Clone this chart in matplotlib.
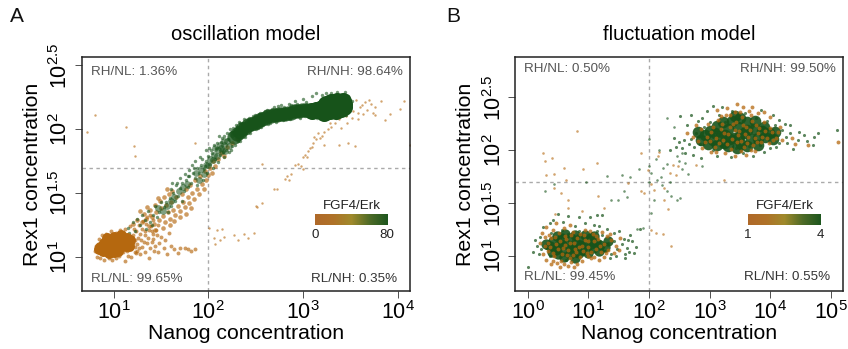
import numpy as np
import matplotlib
matplotlib.use("Agg")
import matplotlib.pyplot as plt
from matplotlib.colors import LinearSegmentedColormap

plt.rcParams['font.family'] = ['Liberation Sans', 'DejaVu Sans']
plt.rcParams['mathtext.default'] = 'regular'

ORANGE = '#B5680F'
GREEN = '#17531A'

# All coordinates are log10(Nanog), log10(Rex1)
a_core_orange = [(0.86,1.08),(0.89,1.05),(0.90,1.11),(0.93,1.07),(0.95,1.03),(0.96,1.13),(0.98,1.08),(1.00,1.04),
 (1.01,1.13),(1.03,1.09),(1.05,1.05),(1.06,1.14),(1.09,1.09),(1.11,1.13),(1.14,1.15),(1.17,1.13),(1.13,1.09),(0.84,1.06),
 (0.93,1.15),(1.00,1.16),(1.08,1.17),(1.16,1.09)]
a_scat_orange = [(0.82,1.00),(0.81,1.09),(0.84,1.14),(0.80,1.05),(0.86,0.99),(0.90,0.98),(0.95,0.99),(0.98,0.98),(1.02,0.99),(1.06,1.01),
 (0.88,1.17),(0.92,1.18),(0.97,1.20),(1.02,1.19),(1.07,1.21),(1.10,1.04),(1.14,1.05),(1.18,1.06),(1.22,1.08),(1.25,1.10),
 (1.12,1.22),(1.17,1.24),(1.21,1.22),(1.24,1.20),(1.27,1.25),(1.30,1.22),(1.33,1.17),(1.29,1.13),(1.34,1.26),(1.37,1.21),
 (1.26,1.15),(1.20,1.17),(1.23,1.13),(1.28,1.18),(1.31,1.28),(1.35,1.31),(1.39,1.24),(1.42,1.29),(1.38,1.33),(1.41,1.18),
 (1.35,1.11),(1.40,1.12),(1.44,1.09),(1.48,1.11),(1.43,1.05),(1.50,1.16),(1.54,1.13),(1.47,1.04),(1.53,1.07),(1.56,1.02),
 (1.60,1.09),(1.64,1.06),(1.68,1.03),(1.70,1.07),(1.75,1.07),(1.78,1.06),(1.82,1.05),(1.86,1.06),(1.28,1.02),(1.33,1.04),
 (1.37,0.99),(1.18,1.00),(1.24,1.03),(1.12,0.97),(1.46,1.17),(1.58,1.19),(1.30,1.08),(1.36,1.15),(1.20,1.11),(1.25,1.05),
 (1.15,1.01),(1.32,1.12),(1.38,1.07),(1.42,1.14),(1.27,1.07),(1.22,1.04),(1.45,1.21),(1.33,1.20),(1.40,1.20),(1.47,1.25)]
a_band_orange = [(1.30,1.27),(1.34,1.30),(1.37,1.24),(1.40,1.31),(1.43,1.26),(1.45,1.35),(1.48,1.29),(1.50,1.38),(1.52,1.32),(1.54,1.27),
 (1.55,1.41),(1.57,1.35),(1.59,1.30),(1.61,1.43),(1.63,1.37),(1.65,1.33),(1.66,1.47),(1.68,1.40),(1.70,1.36),(1.72,1.49),
 (1.73,1.43),(1.75,1.39),(1.76,1.53),(1.78,1.47),(1.80,1.42),(1.81,1.56),(1.83,1.50),(1.85,1.45),(1.86,1.60),(1.88,1.53),
 (1.90,1.49),(1.91,1.63),(1.93,1.57),(1.95,1.53),(1.96,1.67),(1.98,1.60),(2.00,1.64),(2.02,1.70),(2.04,1.66),(2.05,1.75),
 (2.07,1.71),(2.10,1.77),(2.13,1.81),(2.16,1.79),(2.20,1.86),(2.25,1.89),(2.30,1.93),(2.36,1.96),(2.42,1.99),(2.50,2.03),
 (1.32,1.34),(1.38,1.37),(1.44,1.41),(1.49,1.44),(1.53,1.47),(1.58,1.49),(1.62,1.52),(1.44,1.21),(1.52,1.23),(1.59,1.25),
 (1.64,1.28),(1.70,1.31),(1.76,1.34),(1.82,1.38),(1.25,1.29),(1.20,1.26),(1.28,1.36),(1.35,1.39),(1.47,1.46),(1.56,1.53)]
a_outlier_orange = [(0.72,1.98),(0.80,2.11),(1.13,2.02),(1.21,1.87),(1.22,1.79),(1.86,1.89),(2.01,1.23),(2.06,1.15),(2.09,1.21),(2.07,1.10),
 (2.12,1.13),(2.14,1.22),(2.17,1.16),(2.27,1.17),(2.31,1.13),(2.38,1.18),(2.42,1.15),(2.48,1.19),(2.50,1.40),(2.51,1.39),
 (2.57,1.42),(2.69,1.53),(2.73,1.53),(2.81,1.61),(2.83,1.63),(2.85,1.60),(2.87,1.65),(2.91,1.72),(2.95,1.73),(2.98,1.71),
 (3.00,1.69),(2.57,1.73),(3.00,1.78),(3.02,1.80),(3.04,1.78),(3.05,1.83),(3.07,1.85),(3.09,1.86),(3.11,1.89),(3.12,1.94),
 (3.14,1.92),(3.18,1.93),(3.22,1.98),(3.26,2.00),(3.30,2.02),(3.34,2.05),(3.22,1.88),(3.38,1.88),(3.48,1.89),(3.55,1.87),
 (3.16,1.97),(3.20,1.95),(3.28,2.05),(3.40,2.01),(3.46,2.05),(3.52,2.09),(3.58,2.13),(3.62,2.19),(3.68,2.15),(3.72,2.20),
 (3.76,2.11),(3.76,2.17),(3.82,2.22),(3.87,2.07),(3.92,2.12),(4.02,2.16),(4.07,2.22),(4.13,1.88),(3.65,2.21),(3.60,2.17),
 (3.56,2.23),(3.50,2.17),(3.53,2.14),(3.63,2.12),(3.70,2.23),(3.74,2.13),(3.58,2.08),(3.45,2.10),(3.38,2.08)]
a_core_green = [(3.10,2.14),(3.14,2.15),(3.18,2.16),(3.22,2.17),(3.26,2.17),(3.30,2.18),(3.34,2.18),(3.38,2.19),(3.42,2.19),(3.43,2.20),
 (3.36,2.22),(3.30,2.21),(3.24,2.20),(3.40,2.16),(3.35,2.14),(3.28,2.14),(3.22,2.13),(3.43,2.17),(3.42,2.22)]
a_ridge_green = [(2.30,1.96),(2.33,1.98),(2.36,2.00),(2.39,2.01),(2.42,2.03),(2.45,2.04),(2.48,2.05),(2.51,2.06),(2.54,2.07),(2.57,2.08),
 (2.60,2.09),(2.63,2.10),(2.66,2.10),(2.69,2.11),(2.72,2.11),(2.75,2.12),(2.78,2.12),(2.81,2.12),(2.84,2.13),(2.87,2.13),
 (2.90,2.14),(2.93,2.14),(2.96,2.14),(2.99,2.15),(3.02,2.15),(3.05,2.15),(3.08,2.15),(2.27,1.94)]
a_scat_green = [(1.28,1.25),(1.33,1.29),(1.38,1.27),(1.36,1.36),(1.42,1.33),(1.44,1.40),(1.48,1.35),(1.50,1.43),(1.53,1.39),(1.46,1.31),
 (1.55,1.43),(1.57,1.35),(1.59,1.46),(1.61,1.40),(1.63,1.50),(1.65,1.44),(1.68,1.48),(1.66,1.56),(1.70,1.54),(1.72,1.44),
 (1.74,1.52),(1.76,1.60),(1.78,1.55),(1.80,1.63),(1.82,1.58),(1.84,1.66),(1.86,1.62),(1.88,1.56),(1.88,1.70),(1.90,1.66),
 (1.92,1.72),(1.94,1.60),(1.95,1.69),(1.97,1.75),(1.99,1.66),(2.00,1.79),(2.02,1.73),(2.04,1.81),(2.05,1.70),(2.07,1.77),
 (2.08,1.85),(2.10,1.74),(2.12,1.80),(2.13,1.90),(2.15,1.82),(2.17,1.95),(2.19,1.84),(2.21,1.92),(2.23,2.00),(2.25,1.87),
 (2.27,1.98),(2.29,2.03),(2.31,1.91),(2.33,2.05),(2.35,1.95),(2.38,2.08),(2.40,1.97),(2.43,2.09),(2.46,2.00),(2.49,2.11),
 (2.52,2.01),(2.55,2.13),(2.58,2.03),(2.62,2.15),(2.65,2.05),(2.69,2.17),(2.73,2.07),(2.77,2.19),(2.81,2.08),(2.85,2.20),
 (2.89,2.10),(2.92,2.22),(2.97,2.09),(3.00,2.24),(3.05,2.10),(3.10,2.26),(3.15,2.09),(3.20,2.27),(3.25,2.10),(3.30,2.28),
 (3.35,2.09),(3.40,2.27),(3.45,2.11),(3.48,2.26),(3.14,2.28),(3.24,2.28),(3.36,2.29),(3.44,2.29),(3.50,2.19),(3.52,2.22),
 (1.15,1.23),(1.20,1.27),(1.25,1.30),(1.22,1.20),(1.30,1.33),(1.34,1.22),(1.40,1.25),(1.05,1.18),(1.10,1.16),(1.16,1.19),
 (1.75,1.65),(1.70,1.62),(1.62,1.58),(1.83,1.72),(1.91,1.78),(1.98,1.84),(2.06,1.88),(2.11,1.95),(2.22,1.82),(2.28,1.88),
 (1.60,1.53),(1.67,1.58),(1.72,1.58),(1.78,1.63),(1.85,1.70),(1.93,1.77),(1.96,1.71),(2.03,1.84),(2.09,1.89),(2.14,1.93),
 (2.20,1.97),(2.26,2.01),(2.32,2.06),(2.37,2.05),(2.42,2.07),(2.47,2.10),(2.53,2.12),(2.60,2.14),(2.67,2.16),(2.74,2.18),
 (2.80,2.17),(2.87,2.19),(2.94,2.20),(3.03,2.21),(2.44,1.97),(2.50,2.00),(2.56,2.02),(2.63,2.04),(2.71,2.06),(2.79,2.07),
 (2.86,2.08),(2.95,2.10),(3.02,2.10),(2.33,1.91),(2.39,1.94),(2.16,1.78),(2.24,1.84),(1.86,1.75),(1.80,1.68),(2.01,1.85)]
a_band_green = [(1.87,1.66),(1.92,1.69),(1.97,1.72),(2.02,1.77),(2.06,1.80),(2.10,1.84),(2.13,1.85),(2.17,1.88),(2.20,1.91),(2.07,1.85),
 (2.12,1.88),(2.16,1.91),(2.05,1.76),(2.09,1.79),(2.14,1.83),(2.18,1.83),(2.22,1.87),(2.25,1.96),(2.28,1.97),(2.00,1.72),
 (1.95,1.65),(1.90,1.60),(1.77,1.57),(1.73,1.55),(1.69,1.52),(1.64,1.47),(1.60,1.44),(1.56,1.40),(1.52,1.36),(1.47,1.38)]

b_core_green_low = [(0.36,1.10),(0.42,1.14),(0.46,1.06),(0.52,1.11),(0.57,1.17),(0.60,1.05),(0.66,1.11),(0.71,1.17),(0.75,1.06),(0.81,1.12),
 (0.86,1.17),(0.90,1.06),(0.96,1.12),(1.02,1.17),(1.07,1.08),(1.13,1.13),(0.50,1.02),(0.70,1.02),(0.85,1.03),(1.20,1.11),
 (0.40,1.04),(0.48,1.19),(0.62,1.21),(0.78,1.20),(0.95,1.20),(1.10,1.19),(0.60,0.99),(0.78,0.98),(1.00,1.03),(1.17,1.05),
 (1.28,1.09),(1.33,1.14),(0.30,1.12),(0.56,1.12),(0.73,1.10),(0.88,1.11),(1.04,1.12)]
b_core_green_high = [(2.92,2.14),(3.00,2.18),(3.05,2.10),(3.12,2.23),(3.18,2.14),(3.24,2.07),(3.30,2.20),(3.36,2.28),(3.40,2.12),(3.46,2.22),
 (3.52,2.06),(3.56,2.16),(3.62,2.27),(3.68,2.11),(3.74,2.20),(3.80,2.12),(3.86,2.18),(3.92,2.13),(3.98,2.16),(3.30,2.04),(3.50,2.30),
 (2.85,2.10),(2.98,2.06),(3.12,2.05),(3.45,2.02),(3.62,2.04),(3.80,2.05),(3.90,2.22),(3.74,2.28),(3.22,2.27),(3.08,2.16),(3.26,2.14),
 (3.34,2.11),(3.48,2.13),(3.62,2.19),(4.05,2.11),(4.08,2.17),(2.80,2.17),(3.42,2.32)]
b_mid_orange_low = [(0.33,1.05),(0.38,1.17),(0.44,1.00),(0.47,1.12),(0.52,1.22),(0.55,0.96),(0.58,1.08),(0.62,1.19),(0.65,1.01),(0.69,1.13),
 (0.72,0.95),(0.75,1.23),(0.78,1.07),(0.82,1.17),(0.86,0.99),(0.89,1.10),(0.93,1.20),(0.97,1.03),(1.00,1.14),(1.04,0.98),
 (1.08,1.21),(1.12,1.07),(1.16,1.16),(1.21,1.04),(1.26,1.12),(1.33,1.06),(0.41,1.25),(0.49,0.94),(0.60,1.27),(0.66,0.91),
 (0.82,0.93),(0.95,1.25),(0.35,1.20),(0.28,1.10),(0.25,1.02),(0.30,0.97),(0.38,0.93),(0.54,0.90),(0.76,0.90),(1.38,1.15),
 (0.20,1.13),(0.24,1.22),(0.31,1.28),(0.46,1.31),(0.69,1.30),(1.10,0.99),(1.18,0.97),(1.30,1.19),(1.45,1.10),(1.53,1.17),
 (0.37,1.09),(0.41,1.03),(0.45,1.18),(0.50,1.07),(0.53,1.14),(0.57,1.02),(0.61,1.11),(0.64,1.16),(0.67,1.06),(0.71,1.20),
 (0.74,1.01),(0.77,1.13),(0.80,1.04),(0.84,1.09),(0.87,1.21),(0.91,1.05),(0.94,1.15),(0.99,1.09),(1.02,1.24),(1.05,1.04),
 (1.09,1.14),(1.13,1.19),(1.19,1.10),(1.23,1.23),(1.29,1.03),(1.36,1.21),(0.42,0.96),(0.60,0.93),(0.70,0.98),(0.90,0.96),
 (1.00,1.00),(1.25,0.99),(1.42,1.03),(1.50,1.06),(0.33,1.13),(0.28,1.18)]
b_mid_orange_high = [(2.85,2.20),(2.92,2.08),(2.98,2.25),(3.03,2.17),(3.08,2.03),(3.13,2.29),(3.18,2.20),(3.22,2.10),(3.27,2.33),(3.31,2.15),
 (3.35,2.01),(3.38,2.25),(3.42,2.36),(3.45,2.08),(3.49,2.18),(3.53,2.31),(3.57,2.03),(3.60,2.22),(3.64,2.13),(3.68,2.33),
 (3.72,2.05),(3.76,2.24),(3.80,2.16),(3.85,2.08),(3.89,2.27),(3.94,2.12),(3.99,2.21),(4.05,2.10),(4.12,2.17),(4.20,2.10),
 (3.12,2.38),(3.28,2.40),(3.45,2.44),(3.55,2.41),(3.70,2.41),(3.80,2.35),(3.25,1.97),(3.42,1.95),(3.60,1.96),(3.75,1.99),
 (2.72,2.13),(2.78,2.24),(2.62,2.16),(3.02,1.98),(3.90,2.36),(4.35,2.12),(4.40,2.06),(4.62,2.05),(5.12,2.08),(4.00,2.31),
 (2.95,2.13),(3.01,2.09),(3.06,2.22),(3.10,2.12),(3.15,2.07),(3.20,2.25),(3.24,2.16),(3.29,2.06),(3.33,2.22),(3.37,2.11),
 (3.41,2.19),(3.44,2.27),(3.47,2.14),(3.51,2.09),(3.55,2.24),(3.58,2.15),(3.62,2.07),(3.66,2.19),(3.70,2.28),(3.74,2.12),
 (3.78,2.08),(3.82,2.21),(3.87,2.13),(3.92,2.18),(3.97,2.07),(4.03,2.17),(4.10,2.12),(4.16,2.22),(3.18,2.32),(3.34,2.33),
 (3.50,2.36),(3.65,2.37),(3.10,1.98),(3.52,1.99),(3.68,2.00),(2.88,2.02),(2.80,2.09)]
b_mid_green_low = [(0.30,1.08),(0.36,1.00),(0.39,1.22),(0.43,1.09),(0.48,1.17),(0.51,1.04),(0.56,1.25),(0.59,1.13),(0.63,0.97),(0.67,1.21),
 (0.70,1.07),(0.74,1.15),(0.79,1.00),(0.84,1.24),(0.88,1.13),(0.92,1.02),(0.98,1.18),(1.03,1.07),(1.06,1.22),(1.11,1.11),
 (1.15,1.24),(1.19,1.14),(1.23,1.20),(1.27,1.05),(1.32,1.13),(1.37,1.02),(1.42,1.14),(1.48,1.07),(1.55,1.12),(1.60,1.02),
 (0.22,1.07),(0.12,1.15),(0.08,1.04),(0.01,0.90),(0.26,1.28),(0.37,1.31),(1.30,1.26),(1.42,1.22),(1.50,1.24),(1.72,1.14),
 (1.75,1.03),(1.68,1.20),(1.85,1.26),(1.23,1.39),(1.14,1.39),(1.03,1.37),(0.85,1.37),(0.66,1.38),(0.50,1.40),(1.61,0.98),
 (0.18,1.02),(0.15,1.10),(0.20,1.18),(1.58,1.16),(1.64,1.08),(1.67,1.04),(1.45,1.00),(1.35,0.98),(1.18,1.29),(1.10,1.30),
 (0.95,1.31),(0.78,1.29),(0.58,1.32),(0.42,1.34),(1.65,1.15),(1.78,1.09)]
b_mid_green_high = [(2.70,2.11),(2.78,2.16),(2.84,2.06),(2.90,2.22),(2.95,2.12),(3.01,2.27),(3.06,2.00),(3.10,2.16),(3.15,2.33),(3.20,2.05),
 (3.26,2.27),(3.33,2.10),(3.37,2.37),(3.43,2.02),(3.48,2.30),(3.54,2.12),(3.59,2.35),(3.65,2.04),(3.70,2.22),(3.77,2.30),
 (3.83,2.05),(3.88,2.22),(3.95,2.28),(4.02,2.14),(4.08,2.24),(4.14,2.07),(4.20,2.19),(4.26,2.13),(4.33,2.16),(4.45,2.10),
 (2.50,2.08),(2.55,2.02),(2.42,2.12),(2.62,2.24),(2.35,2.00),(2.60,1.97),(2.72,1.96),(2.85,1.93),(3.20,2.41),(3.05,2.42),
 (2.95,2.37),(2.70,2.33),(2.51,2.32),(4.55,2.14),(4.72,2.13),(5.10,2.19),(4.78,2.16),(4.38,2.01),(4.10,2.03),(3.90,1.98),
 (2.66,2.06),(2.58,2.10),(2.74,2.03),(2.80,2.28),(2.88,2.30),(3.12,1.95),(3.35,1.94),(3.55,1.97),(3.72,1.95),(4.00,2.02),
 (4.28,2.07),(4.32,2.24),(4.24,2.25),(4.15,2.29),(4.05,2.33),(3.85,2.38),(4.48,2.17),(4.60,2.09),(4.70,2.05),(2.45,2.03)]
b_sparse_orange = [(0.82,2.18),(0.25,1.97),(0.29,1.90),(0.40,1.93),(0.60,1.83),(0.91,1.82),(1.15,1.88),(0.30,1.77),(0.43,1.78),(0.64,1.72),
 (0.43,1.64),(0.55,1.60),(0.67,1.53),(1.16,1.57),(1.65,1.69),(1.86,1.62),(1.86,1.97),(1.92,1.60),(1.98,1.81),(2.03,1.68),
 (2.08,1.63),(2.15,1.95),(2.17,1.98),(2.24,1.64),(2.25,1.53),(2.32,1.45),(2.34,1.79),(2.40,1.86),(2.45,1.77),(2.12,1.22),
 (2.23,1.21),(2.36,1.10),(2.04,1.25),(2.47,1.85),(2.78,1.86),(3.24,1.72),(1.25,1.46),(0.66,1.46),(0.45,1.40),(0.90,1.43)]
b_sparse_green = [(0.29,1.62),(0.44,1.68),(0.96,1.70),(1.31,1.76),(1.68,1.75),(1.55,1.77),(1.59,1.62),(1.63,1.56),(1.49,1.53),(1.38,1.53),
 (2.00,1.85),(2.04,1.79),(2.12,1.92),(2.19,1.75),(2.23,1.83),(2.29,1.87),(2.34,1.70),(2.21,1.67),(2.30,1.62),(2.50,1.90),
 (2.55,1.82),(2.60,1.88),(2.65,1.78),(2.55,1.97),(2.37,1.57),(2.51,1.55),(2.46,1.53),(2.00,2.11),(2.04,1.41),(1.90,1.27),
 (2.08,1.53),(2.00,1.70),(2.13,1.72),(2.88,1.85),(2.46,1.95),(1.80,1.26),(2.30,2.30),(2.42,2.22),(1.84,1.82),(2.16,2.00)]

def lin(pts):
    arr = np.array(pts)
    return 10.0 ** arr[:, 0], 10.0 ** arr[:, 1]

cmap_fgf = LinearSegmentedColormap.from_list('fgf', ['#B0692A', '#AF7228', '#A08A2C', '#4E6B27', '#1D561E'])

fig = plt.figure(figsize=(8.48, 3.49), dpi=100)
W, H = 848.0, 349.0

def make_axes(x0, x1, y0, y1):
    return fig.add_axes([x0 / W, 1 - y1 / H, (x1 - x0) / W, (y1 - y0) / H])

def style(ax, xlim, ylim, xt, xtl, yt, ytl, title):
    ax.set_xscale('log'); ax.set_yscale('log')
    ax.set_xlim(*xlim); ax.set_ylim(*ylim)
    ax.minorticks_off()
    ax.set_xticks(xt); ax.set_xticklabels(xtl, fontsize=15.5)
    ax.set_yticks(yt); ax.set_yticklabels(ytl, fontsize=15.5, rotation=90, va='center')
    ax.tick_params(axis='both', which='major', length=5, width=0.6, color='#333333', pad=2)
    ax.tick_params(axis='both', which='minor', length=0)
    for s in ax.spines.values():
        s.set_linewidth(1.1); s.set_color('#222222')
    ax.axvline(100, color='#aaaaaa', lw=1, ls=(0, (2.5, 2.5)), zorder=1)
    ax.axhline(50, color='#aaaaaa', lw=1, ls=(0, (2.5, 2.5)), zorder=1)
    ax.set_xlabel('Nanog concentration', fontsize=15.3, labelpad=0)
    ax.set_ylabel('Rex1 concentration', fontsize=15.3, labelpad=5.5)
    ax.set_title(title, fontsize=14.5, pad=12)

def quadrants(ax, tl, tr, bl, br, yt, yb):
    c = '#555555'
    ax.text(0.028, yt, tl, transform=ax.transAxes, fontsize=9.6, color=c, va='center', zorder=9)
    ax.text(0.978, yt, tr, transform=ax.transAxes, fontsize=9.6, color=c, va='center', ha='right', zorder=9)
    ax.text(0.028, yb, bl, transform=ax.transAxes, fontsize=9.6, color=c, va='center', zorder=9)
    ax.text(0.962, yb, br, transform=ax.transAxes, fontsize=9.6, color='#333333', va='center', ha='right', zorder=9)

def colorbar(x0, x1, y0, y1, lo, hi):
    cax = make_axes(x0, x1, y0, y1)
    cax.imshow(np.linspace(0, 1, 256)[None, :], aspect='auto', cmap=cmap_fgf)
    cax.axis('off')
    xc = (x0 + x1) / 2 / W
    fig.text(xc, 1 - (y0 - 8.5) / H, 'FGF4/Erk', ha='center', va='center', fontsize=9.6, color='#222222')
    fig.text(x0 / W, 1 - (y1 + 10) / H, lo, ha='center', va='center', fontsize=9.6, color='#222222')
    fig.text(x1 / W - 0.001, 1 - (y1 + 10) / H, hi, ha='center', va='center', fontsize=9.6, color='#222222')

# Panel A
axa = make_axes(82, 410, 57, 291)
style(axa, (10**0.665, 10**4.13), (10**0.734, 10**2.565),
      [10, 100, 1000, 10000], ['$10^{1}$', '$10^{2}$', '$10^{3}$', '$10^{4}$'],
      [10, 10**1.5, 100, 10**2.5], ['$10^{1}$', '$10^{1.5}$', '$10^{2}$', '$10^{2.5}$'], 'oscillation model')
axa.scatter(*lin(a_outlier_orange), s=3, c=ORANGE, alpha=0.6, lw=0, zorder=2)
axa.scatter(*lin(a_scat_orange), s=8, c=ORANGE, alpha=0.65, lw=0, zorder=2)
axa.scatter(*lin(a_band_orange), s=11, c=ORANGE, alpha=0.65, lw=0, zorder=2)
axa.scatter(*lin(a_band_green), s=24, c=GREEN, alpha=0.55, lw=0, zorder=3)
axa.scatter(*lin(a_ridge_green), s=105, c=GREEN, alpha=0.8, lw=0, zorder=3)
axa.scatter(*lin(a_scat_green), s=6, c=GREEN, alpha=0.6, lw=0, zorder=4)
axa.scatter(*lin(a_core_green), s=150, c=GREEN, lw=0, zorder=4)
axa.scatter(*lin(a_core_orange), s=62, c=ORANGE, lw=0, zorder=4)
quadrants(axa, 'RH/NL: 1.36%', 'RH/NH: 98.64%', 'RL/NL: 99.65%', 'RL/NH: 0.35%', 0.936, 0.05)
colorbar(315, 388, 214, 225, '0', '80')

# Panel B
axb = make_axes(515.3, 843, 57, 291)
style(axb, (10**-0.204, 10**5.198), (10**0.673, 10**2.88),
      [1, 10, 100, 1000, 10000, 100000], ['$10^{0}$', '$10^{1}$', '$10^{2}$', '$10^{3}$', '$10^{4}$', '$10^{5}$'],
      [10, 10**1.5, 100, 10**2.5], ['$10^{1}$', '$10^{1.5}$', '$10^{2}$', '$10^{2.5}$'], 'fluctuation model')
axb.scatter(*lin(b_sparse_orange), s=3.5, c=ORANGE, alpha=0.6, lw=0, zorder=2)
axb.scatter(*lin(b_sparse_green), s=3.5, c=GREEN, alpha=0.6, lw=0, zorder=2)
axb.scatter(*lin(b_core_green_low), s=55, c=GREEN, alpha=0.9, lw=0, zorder=3)
axb.scatter(*lin(b_core_green_high), s=70, c=GREEN, alpha=0.9, lw=0, zorder=3)
for pts in (b_mid_green_low, b_mid_green_high):
    axb.scatter(*lin(pts), s=5, c=GREEN, alpha=0.7, lw=0, zorder=4)
for pts in (b_mid_orange_low, b_mid_orange_high):
    axb.scatter(*lin(pts), s=8, c=ORANGE, alpha=0.75, lw=0, zorder=5)
quadrants(axb, 'RH/NL: 0.50%', 'RH/NH: 99.50%', 'RL/NL: 99.45%', 'RL/NH: 0.55%', 0.947, 0.06)
colorbar(748, 821, 214, 225, '1', '4')

fig.text(10 / W, 1 - 17 / H, 'A', fontsize=15, va='center', color='#111111')
fig.text(446 / W, 1 - 17 / H, 'B', fontsize=15, va='center', color='#111111')

fig.savefig('out.png', dpi=100)
